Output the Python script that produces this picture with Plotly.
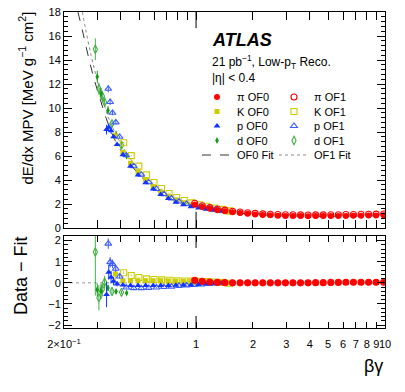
import plotly.graph_objects as go

# ---- values ----
# pions (same beta*gamma bins for OF0 and OF1)
PI_BG = [0.984, 1.079, 1.183, 1.297, 1.422, 1.560, 1.710, 1.875, 2.056, 2.254, 2.472, 2.710, 2.972,
         3.258, 3.573, 3.917, 4.295, 4.710, 5.164, 5.662, 6.209, 6.808, 7.464, 8.185, 8.974, 9.840]
PI_OF0 = [1.93, 1.74, 1.60, 1.48, 1.40, 1.31, 1.24, 1.18, 1.13, 1.09, 1.06, 1.03, 1.01,
          1.00, 0.99, 0.98, 0.99, 0.99, 0.99, 1.00, 1.01, 1.02, 1.03, 1.04, 1.05, 1.06]
PI_OF1 = [2.06, 1.86, 1.70, 1.58, 1.49, 1.40, 1.33, 1.27, 1.22, 1.18, 1.15, 1.13, 1.11,
          1.10, 1.09, 1.08, 1.09, 1.09, 1.10, 1.11, 1.12, 1.13, 1.14, 1.15, 1.16, 1.17]
PI_RES0 = [0.11, 0.06, 0.04, 0.03, 0.02, 0.01, 0.00, 0.00, 0.00, 0.00, 0.00, 0.00, 0.00,
           0.00, 0.00, 0.00, 0.01, 0.01, 0.01, 0.02, 0.03, 0.03, 0.03, 0.03, 0.03, 0.03]
PI_RES1 = [0.12, 0.07, 0.04, 0.02, 0.01, 0.00, 0.00, 0.00, 0.00, 0.00, 0.00, 0.00, 0.00,
           0.00, 0.00, 0.00, 0.01, 0.01, 0.02, 0.02, 0.03, 0.03, 0.03, 0.03, 0.03, 0.03]

# kaons
K0_BG = [0.374, 0.410, 0.450, 0.493, 0.541, 0.593, 0.650, 0.713, 0.782, 0.857, 0.940, 1.03,
         1.13, 1.24, 1.36, 1.49]
K_OF0 = [7.67, 6.30, 5.40, 4.65, 4.00, 3.47, 3.02, 2.65, 2.34, 2.10, 1.93, 1.80,
         1.67, 1.54, 1.44, 1.34]
K_ERR0 = [0.35, 0.06, 0.04, 0.03, 0.02, 0.02, 0.02, 0.02, 0.02, 0.02, 0.02, 0.02,
          0.02, 0.02, 0.02, 0.02]
K_RES0 = [0.42, 0.10, 0.10, 0.10, 0.10, 0.10, 0.10, 0.09, 0.08, 0.07, 0.06, 0.05,
          0.04, 0.03, 0.02, 0.00]
K_RERR0 = [0.40, 0.06, 0.04, 0.03, 0.02, 0.02, 0.02, 0.02, 0.02, 0.02, 0.02, 0.02,
           0.02, 0.02, 0.02, 0.02]
K1_BG = [0.414, 0.454, 0.498, 0.546, 0.599, 0.657, 0.720, 0.790, 0.866, 0.950, 1.04,
         1.14, 1.25, 1.37, 1.50]
K_OF1 = [7.11, 6.03, 5.16, 4.43, 3.79, 3.29, 2.88, 2.54, 2.29, 2.09, 1.94,
         1.81, 1.67, 1.55, 1.43]
K_ERR1 = [0.06, 0.04, 0.03, 0.02, 0.02, 0.02, 0.02, 0.02, 0.02, 0.02, 0.02,
          0.02, 0.02, 0.02, 0.02]
K_RES1 = [0.48, 0.35, 0.25, 0.19, 0.16, 0.14, 0.12, 0.10, 0.09, 0.08, 0.07,
          0.06, 0.04, 0.02, -0.02]
K_RERR1 = [0.06, 0.04, 0.03, 0.02, 0.02, 0.02, 0.02, 0.02, 0.02, 0.02, 0.02,
           0.02, 0.02, 0.02, 0.02]

# protons
P0_BG = [0.336, 0.345, 0.355, 0.366, 0.382, 0.410, 0.450, 0.493, 0.541, 0.593, 0.650,
         0.713, 0.782, 0.857, 0.940, 1.03, 1.13, 1.24, 1.36]
P_OF0 = [8.2, 8.4, 8.1, 7.6, 6.95, 6.1, 5.15, 4.42, 3.78, 3.25, 2.80,
         2.45, 2.15, 1.93, 1.77, 1.67, 1.57, 1.47, 1.40]
P_ERR0 = [0.40, 0.30, 0.25, 0.15, 0.10, 0.05, 0.03, 0.02, 0.02, 0.02, 0.02,
          0.02, 0.02, 0.02, 0.02, 0.02, 0.02, 0.02, 0.02]
P_RES0 = [-0.55, 0.50, 0.27, 0.08, -0.05, -0.10, -0.12, -0.12, -0.12, -0.12, -0.12,
          -0.12, -0.11, -0.10, -0.10, -0.08, -0.06, -0.04, -0.02]
P_RERR0 = [0.60, 0.35, 0.30, 0.20, 0.12, 0.06, 0.04, 0.03, 0.02, 0.02, 0.02,
           0.02, 0.02, 0.02, 0.02, 0.02, 0.02, 0.02, 0.02]
P1_BG = [0.343, 0.351, 0.361, 0.376, 0.394, 0.427, 0.468, 0.513, 0.562, 0.617, 0.676,
         0.741, 0.813, 0.891, 0.977, 1.07, 1.175, 1.29]
P_OF1 = [11.6, 10.5, 9.6, 8.8, 7.6, 6.06, 5.15, 4.45, 3.81, 3.25, 2.82,
         2.47, 2.21, 2.01, 1.87, 1.75, 1.66, 1.57]
P_ERR1 = [0.30, 0.25, 0.20, 0.15, 0.10, 0.05, 0.03, 0.02, 0.02, 0.02, 0.02,
          0.02, 0.02, 0.02, 0.02, 0.02, 0.02, 0.02]
P_RES1 = [1.86, 0.98, 0.90, 0.67, 0.30, -0.22, -0.25, -0.25, -0.24, -0.22, -0.20,
          -0.18, -0.15, -0.12, -0.10, -0.08, -0.05, -0.02]
P_RERR1 = [0.25, 0.25, 0.20, 0.15, 0.10, 0.05, 0.03, 0.02, 0.02, 0.02, 0.02,
           0.02, 0.02, 0.02, 0.02, 0.02, 0.02, 0.02]

# deuterons
D0_BG = [0.300, 0.314, 0.342, 0.377, 0.429]
D_OF0 = [12.6, 11.2, 9.8, 7.8, 6.0]
D_ERR0 = [0.50, 0.45, 0.35, 0.30, 0.25]
D_RES0 = [-0.33, -0.40, -0.24, -0.41, -0.48]
D_RERR0 = [0.30, 0.35, 0.15, 0.10, 0.08]
D1_BG = [0.293, 0.306, 0.319, 0.328, 0.359, 0.403]
D_OF1 = [14.9, 11.6, 11.0, 10.5, 8.7, 6.9]
D_ERR1 = [0.90, 0.50, 0.45, 0.40, 0.30, 0.25]
D_RES1 = [1.46, -0.71, -0.30, 0.03, -0.41, -0.45]
D_RERR1 = [2.06, 0.60, 0.35, 0.30, 0.10, 0.08]

# fitted curves
FIT0_BG = [0.237, 0.25, 0.27, 0.29, 0.31, 0.33, 0.35, 0.37, 0.40, 0.43, 0.46, 0.50, 0.55,
           0.60, 0.65, 0.70, 0.75, 0.80, 0.85, 0.90, 0.95, 1.0, 1.1, 1.2, 1.3, 1.4, 1.6,
           1.8, 2.0, 2.5, 3.0, 4.0, 5.0, 6.5, 8.0, 10.0]
FIT0_VAL = [18.0, 16.5, 14.2, 12.3, 10.8, 9.4, 8.3, 7.4, 6.45, 5.7, 5.1, 4.45, 3.8,
            3.3, 2.92, 2.62, 2.38, 2.2, 2.05, 1.94, 1.86, 1.79, 1.66, 1.55, 1.46, 1.39, 1.28,
            1.2, 1.14, 1.05, 1.01, 0.98, 0.98, 0.99, 1.01, 1.03]
FIT1_BG = [0.25, 0.26, 0.28, 0.30, 0.32, 0.34, 0.36, 0.38, 0.40, 0.43, 0.46, 0.50, 0.55,
           0.60, 0.65, 0.70, 0.75, 0.80, 0.85, 0.90, 0.95, 1.0, 1.1, 1.2, 1.3, 1.4, 1.6,
           1.8, 2.0, 2.5, 3.0, 4.0, 5.0, 6.5, 8.0, 10.0]
FIT1_VAL = [18.0, 16.6, 14.2, 12.3, 10.8, 9.4, 8.45, 7.7, 7.0, 6.2, 5.55, 4.88, 4.18,
            3.62, 3.2, 2.86, 2.6, 2.4, 2.24, 2.11, 2.01, 1.93, 1.79, 1.68, 1.58, 1.51, 1.38,
            1.30, 1.24, 1.15, 1.11, 1.08, 1.08, 1.09, 1.11, 1.13]

# x tick labels of the ratio panel
X_TICKS = [0.2, 1, 2, 3, 4, 5, 6, 7, 8, 9, 10]
X_TICKTEXT = ["2×10<sup>−1</sup>", "1", "2", "3", "4", "5", "6", "7", "8", "9", "10"]
X_MINOR = [0.3, 0.4, 0.5, 0.6, 0.7, 0.8, 0.9]

FONT = "Liberation Sans, Arial, Helvetica, sans-serif"
W, H = 405, 392


def _px(x, y):
    """Pixel position in the 405x392 canvas -> paper coordinates."""
    return x / W, 1 - y / H


def _legend_id(row, col):
    """One single-entry legend per cell of the 2-column legend block."""
    n = 2 * row + col + 1
    return "legend" if n == 1 else f"legend{n}"


RED, YEL, BLUE, BLUE_O, GRN, GRN_O = "#ff0000", "#cccc00", "#1033ff", "#3d5cff", "#159a15", "#44b044"

# name, bg, val, err, res, res_err, symbol, color, size, (legend row, col)
SERIES = [
    ("d OF1", D1_BG, D_OF1, D_ERR1, D_RES1, D_RERR1, "diamond-tall-open", GRN_O, 6, (3, 1)),
    ("d OF0", D0_BG, D_OF0, D_ERR0, D_RES0, D_RERR0, "diamond-tall", GRN, 5, (3, 0)),
    ("K OF1", K1_BG, K_OF1, K_ERR1, K_RES1, K_RERR1, "square-open", YEL, 6, (1, 1)),
    ("K OF0", K0_BG, K_OF0, K_ERR0, K_RES0, K_RERR0, "square", YEL, 5, (1, 0)),
    ("p OF1", P1_BG, P_OF1, P_ERR1, P_RES1, P_RERR1, "triangle-up-open", BLUE_O, 6, (2, 1)),
    ("p OF0", P0_BG, P_OF0, P_ERR0, P_RES0, P_RERR0, "triangle-up", BLUE, 6, (2, 0)),
    ("π OF1", PI_BG, PI_OF1, None, PI_RES1, None, "circle-open", RED, 6, (0, 1)),
    ("π OF0", PI_BG, PI_OF0, None, PI_RES0, None, "circle", RED, 6, (0, 0)),
]


def _points(name, bg, val, err, symbol, color, size, cell, axes, show):
    open_marker = symbol.endswith("open")
    return go.Scatter(
        x=bg, y=val, mode="markers", name=name, xaxis=axes[0], yaxis=axes[1],
        marker=dict(symbol=symbol, size=size, color=color,
                    line=dict(color=color, width=1.1 if open_marker else 0)),
        error_y=dict(type="data", array=err, visible=err is not None,
                     color=color, thickness=1, width=0),
        legend=_legend_id(*cell), showlegend=show, hoverinfo="skip")


traces = [
    go.Scatter(x=FIT0_BG, y=FIT0_VAL, mode="lines", line_shape="spline", name="OF0 Fit",
               line=dict(color="#333333", width=1, dash="dash"), legend=_legend_id(4, 0),
               hoverinfo="skip"),
    go.Scatter(x=FIT1_BG, y=FIT1_VAL, mode="lines", line_shape="spline", name="OF1 Fit",
               line=dict(color="#8c8c8c", width=1, dash="dot"), legend=_legend_id(4, 1),
               hoverinfo="skip"),
]
for name, bg, val, err, res, rerr, sym, col, size, cell in SERIES:
    traces.append(_points(name, bg, val, err, sym, col, size, cell, ("x", "y"), True))
for name, bg, val, err, res, rerr, sym, col, size, cell in SERIES:
    traces.append(_points(name, bg, res, rerr, sym, col, size, cell, ("x2", "y2"), False))

fig = go.Figure(traces)

# automargin off: the template would otherwise shrink the frames
axis_common = dict(showline=True, linecolor="black", linewidth=1, mirror="allticks",
                   ticks="inside", tickcolor="black", showgrid=False, zeroline=False,
                   automargin=False, tickfont=dict(family=FONT, size=11, color="black"))

x0, _ = _px(64, 0)
x1, _ = _px(385, 0)
_, ytop = _px(0, 12)
_, ybot = _px(0, 228)
_, rtop = _px(0, 236)
_, rbot = _px(0, 328)

fig.update_layout(
    width=W, height=H, margin=dict(l=0, r=0, t=0, b=0, autoexpand=False),
    paper_bgcolor="white", plot_bgcolor="white",
    font=dict(family=FONT, color="black"),
    xaxis=dict(axis_common, type="log", range=[-0.69897, 1.0], domain=[x0, x1], anchor="y",
               tickvals=X_TICKS[1:], showticklabels=False, ticklen=8,
               minor=dict(tickvals=X_MINOR, ticks="inside", ticklen=8, tickcolor="black")),
    yaxis=dict(axis_common, range=[0, 18], domain=[ybot, ytop], anchor="x",
               tick0=0, dtick=2, ticklen=8,
               minor=dict(dtick=0.4, ticks="inside", ticklen=4, tickcolor="black")),
    xaxis2=dict(axis_common, type="log", range=[-0.69897, 1.0], domain=[x0, x1], anchor="y2",
                matches="x", tickvals=X_TICKS, ticktext=X_TICKTEXT, ticklen=6,
                tickangle=0, ticklabelstandoff=6,
                minor=dict(tickvals=X_MINOR, ticks="inside", ticklen=6, tickcolor="black")),
    yaxis2=dict(axis_common, range=[-2.14, 2.22], domain=[rbot, rtop], anchor="x2",
                tick0=0, dtick=1, ticklen=8,
                minor=dict(dtick=0.2, ticks="inside", ticklen=4, tickcolor="black")),
    showlegend=True,
)

# legend block: 5 rows x 2 columns, ROOT-like row pitch
LEG_ROW_Y = [97, 111.5, 126, 140.5, 155]
LEG_COL_X = [197, 274]
for row, ypix in enumerate(LEG_ROW_Y):
    for col, xpix in enumerate(LEG_COL_X):
        fig.update_layout({_legend_id(row, col): dict(
            x=_px(xpix, 0)[0], y=_px(0, ypix)[1], xanchor="left", yanchor="middle",
            itemwidth=30, bgcolor="rgba(0,0,0,0)",
            font=dict(family=FONT, size=11, color="black"))})

# long ticks at beta*gamma = 1 (ROOT draws the decade ticks longer)
for xref, yref, frac in (("x", "y domain", 0.075), ("x2", "y2 domain", 0.13)):
    fig.add_shape(type="line", xref=xref, yref=yref, x0=1, x1=1, y0=0, y1=frac,
                  line=dict(color="black", width=1))
    fig.add_shape(type="line", xref=xref, yref=yref, x0=1, x1=1, y0=1 - frac, y1=1,
                  line=dict(color="black", width=1))

# zero line of the residual panel
fig.add_shape(type="line", xref="x2 domain", yref="y2", x0=0, x1=1, y0=0, y1=0,
              line=dict(color="#9a9a9a", width=1, dash="dot"), layer="below")

ann = [
    (210, 40, "<b><i>ATLAS</i></b>", 18),
    (210, 62, "21 pb<sup>−1</sup>, Low-p<sub>T</sub> Reco.", 12),
    (210, 78, "|η| &lt; 0.4", 12),
]
for x, y, text, size in ann:
    px, py = _px(x, y)
    fig.add_annotation(x=px, y=py, xref="paper", yref="paper", text=text, showarrow=False,
                       xanchor="left", yanchor="middle", font=dict(family=FONT, size=size))

# axis titles, placed like ROOT (aligned to the axis end)
px, py = _px(26, 10)
fig.add_annotation(x=px, y=py, xref="paper", yref="paper", showarrow=False, textangle=-90,
                   text="dE/dx MPV [MeV g<sup>−1</sup> cm<sup>2</sup>]",
                   xanchor="center", yanchor="top", font=dict(family=FONT, size=15))
px, py = _px(21, 276)
fig.add_annotation(x=px, y=py, xref="paper", yref="paper", showarrow=False, textangle=-90,
                   text="Data − Fit", xanchor="center", yanchor="middle",
                   font=dict(family=FONT, size=18))
px, py = _px(385, 366)
fig.add_annotation(x=px, y=py, xref="paper", yref="paper", showarrow=False,
                   text="βγ", xanchor="right", yanchor="middle",
                   font=dict(family=FONT, size=18))

fig.write_html("out.html", config={"displayModeBar": False},
               post_script="document.body.style.margin='0';")
